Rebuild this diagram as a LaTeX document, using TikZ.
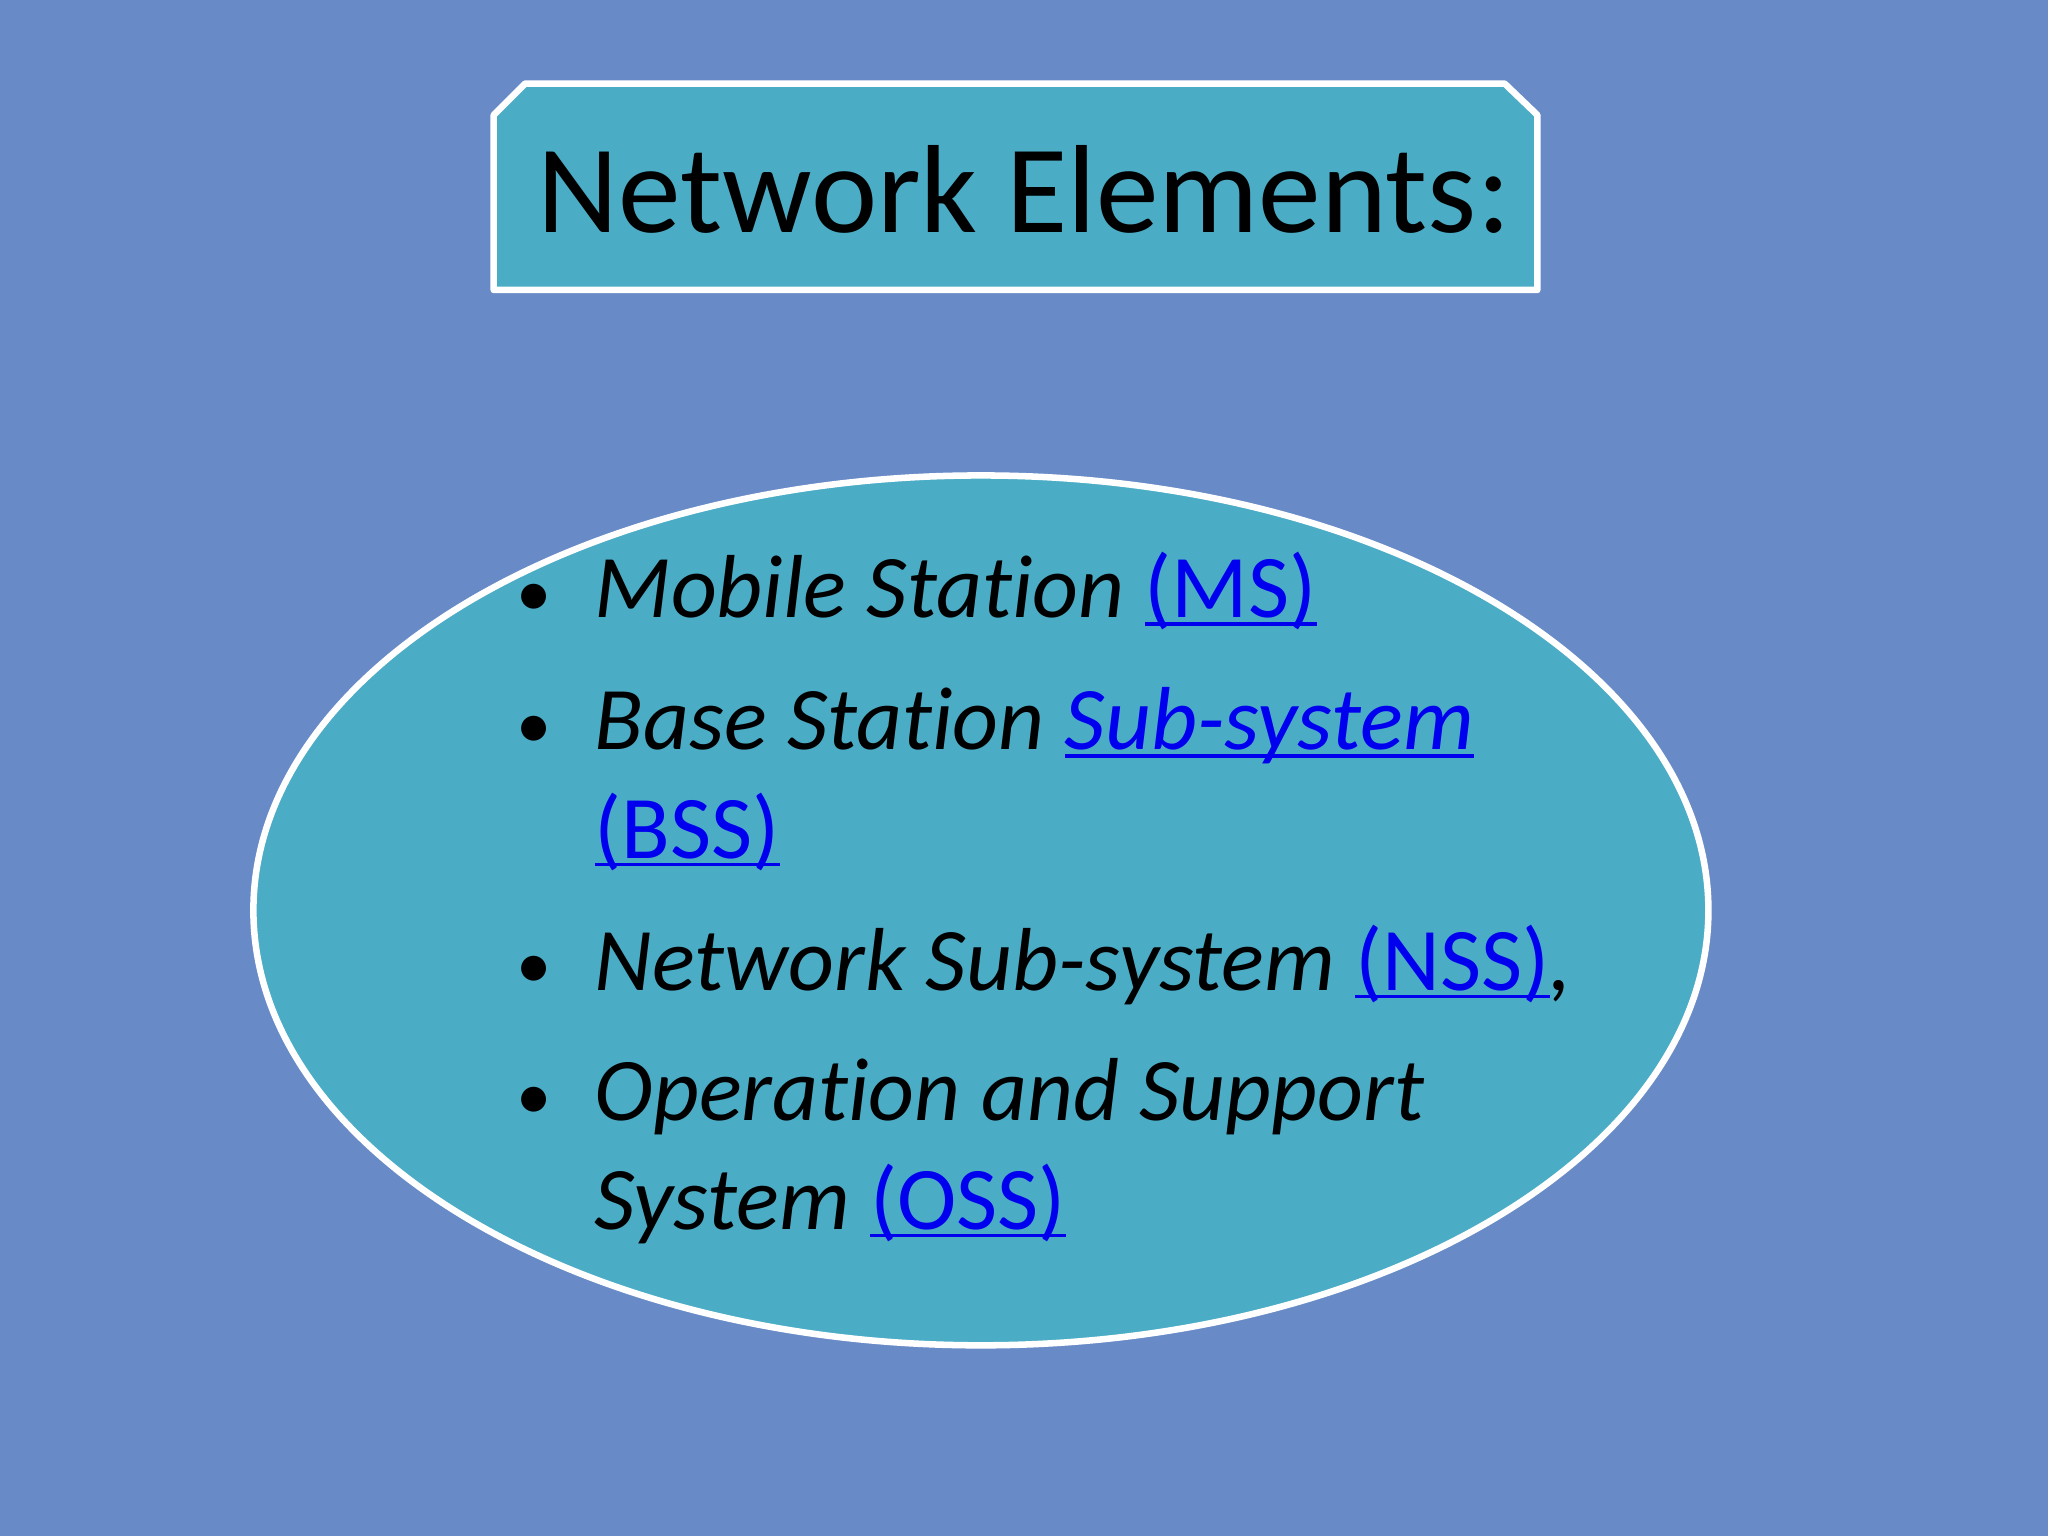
\documentclass[tikz,border=0pt]{standalone}
\usepackage{fontspec}
\setmainfont[Ligatures={NoCommon}]{Carlito}
\definecolor{bgc}{RGB}{104,139,200}
\definecolor{tealc}{RGB}{75,172,198}
\definecolor{linkc}{RGB}{0,0,238}
\newcommand{\lnk}[1]{\textcolor{linkc}{\rlap{\rule[-6pt]{\widthof{#1}}{2.5pt}}#1}}
\usepackage{calc}
\begin{document}
\begin{tikzpicture}[x=1pt,y=-1pt,
  item/.style={anchor=base west,inner sep=0pt,font=\fontsize{68.5}{72}\selectfont\itshape},
  bul/.style={anchor=base west,inner sep=0pt,font=\fontsize{54}{60}\selectfont}]
\useasboundingbox (0,0) rectangle (1568,1176);
\fill[bgc] (0,0) rectangle (1568,1176);
\path[fill=tealc,draw=white,line width=5pt,line join=round]
  (378,222) -- (378,88) -- (402,64) -- (1152,64) -- (1177,88) -- (1177,222) -- cycle;
\node[anchor=base,inner sep=0pt,font=\fontsize{96}{100}\selectfont] (title) at (784,178) {Network Elements:};
\draw[fill=tealc,draw=white,line width=5pt] (751,697) ellipse [x radius=557, y radius=333];
\node (ell) at (751,697) {};
\foreach \y/\n in {472/b1,573/b2,757/b3,857/b4}{
  \node[bul] (\n) at (395,\y) {\textbullet};}
\node[item] (t1) at (455,473) {Mobile Station \lnk{\upshape(MS)}};
\node[item] (t2) at (455,574) {Base Station \lnk{Sub-system}};
\node[item] (t2b) at (455,657) {\lnk{\upshape(BSS)}};
\node[item] (t3) at (455,758) {Network Sub-system \lnk{\upshape(NSS)},};
\node[item] (t4) at (455,858) {Operation and Support};
\node[item] (t4b) at (455,941) {System \lnk{\upshape(OSS)}};
\end{tikzpicture}
\end{document}
